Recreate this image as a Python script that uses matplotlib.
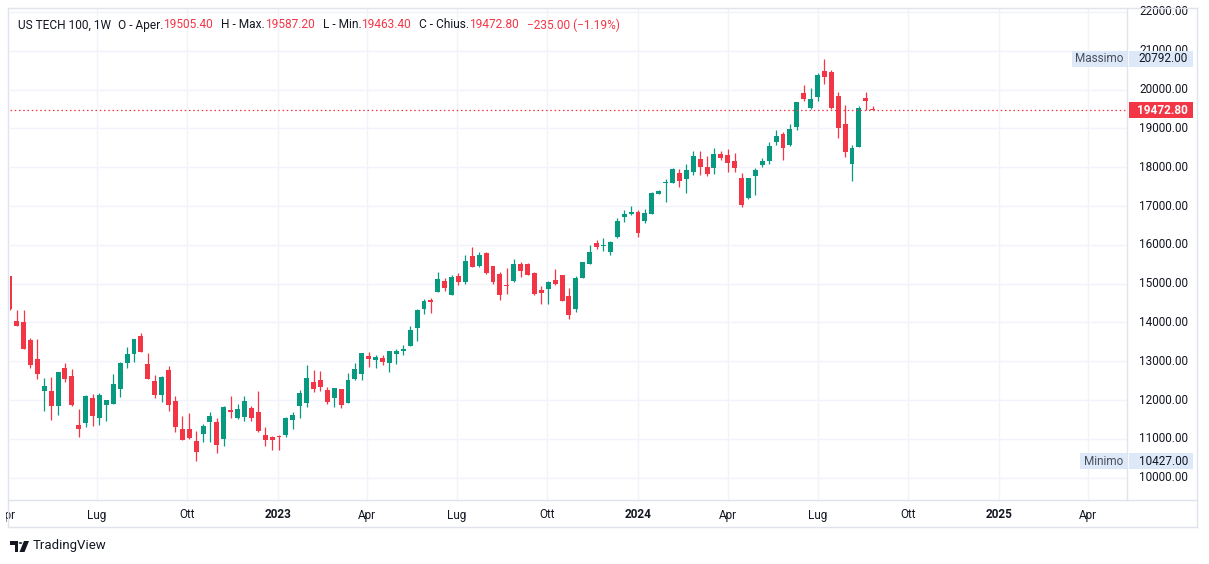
import datetime as dt
import numpy as np
import pandas as pd
import matplotlib
matplotlib.use('Agg')
import matplotlib.pyplot as plt
import matplotlib.dates as mdates
from matplotlib.patches import Rectangle, Polygon, Circle
from matplotlib.transforms import Bbox, blended_transform_factory
from matplotlib.lines import Line2D

plt.rcParams['font.family'] = ['Roboto', 'DejaVu Sans']

# settimane (lunedi) a partire da questa data
week_start = '2022-04-04'

opens = [15190, 14026, 14000, 13560, 13069, 12224, 12242, 11836, 12836, 12630,
         11362, 11397, 12061, 11526, 11862, 11888, 12276, 12948, 13181, 13664,
         12940, 12500, 12121, 12785, 11983, 11259, 11259, 10949, 11128, 11427,
         11444, 10991, 11752, 11546, 11572, 11803, 11700, 11110, 11059, 11070,
         11110, 11495, 11854, 11931, 12470, 12521, 12265, 12060, 12290, 11931,
         12547, 12675, 13134, 13030, 13082, 12952, 13181, 13259, 13389, 13855,
         14348, 14555, 14788, 15074, 14711, 15203, 15048, 15722, 15462, 15800,
         15443, 15238, 14957, 15068, 15519, 15494, 15264, 14830, 14864, 15085,
         15213, 14677, 14353, 15145, 15502, 16055, 15962, 15825, 16208, 16719,
         16796, 16847, 16615, 16803, 17307, 17581, 17598, 17846, 17692, 17872,
         18205, 18000, 17974, 18333, 18308, 18154, 17718, 17205, 17769, 18051,
         18154, 18641, 18859, 18576, 19039, 19914, 19528, 19811, 20480, 20455,
         19837, 19116, 18087, 18524, 19786, 19505.4]
highs = [15200, 14310, 14310, 13612, 13586, 12578, 12604, 12733, 12966, 12810,
         11776, 12138, 12164, 12190, 12009, 12681, 12992, 13379, 13586, 13741,
         13224, 12655, 12630, 12888, 12095, 11578, 11673, 11207, 11392, 11700,
         11546, 11855, 12111, 11906, 12111, 11855, 12239, 11316, 11080, 11110,
         11572, 11700, 12265, 12906, 12778, 12752, 12342, 12316, 12290, 12701,
         12957, 13214, 13236, 13160, 13172, 13262, 13311, 13415, 13907, 14348,
         14607, 14633, 15307, 15151, 15229, 15281, 15748, 15955, 15825, 15825,
         15443, 15289, 15391, 15647, 15570, 15545, 15289, 14940, 15060, 15366,
         15213, 14881, 15187, 15570, 16004, 16132, 16183, 16106, 16693, 16898,
         17000, 16898, 16923, 17359, 17410, 17692, 17974, 17949, 18077, 18410,
         18410, 18282, 18487, 18410, 18462, 18359, 17846, 17718, 17974, 18231,
         18641, 18949, 18910, 19116, 19683, 20120, 20043, 20429, 20792, 20506,
         19940, 19605, 18576, 19580, 19940, 19587.2]
lows = [14330, 13900, 13310, 12819, 12535, 11707, 11500, 11604, 12457, 11836,
        11061, 11319, 11345, 11371, 11474, 11888, 12069, 12819, 12974, 13233,
        12535, 12043, 11940, 11707, 11190, 10983, 11009, 10427, 10914, 10914,
        10632, 10811, 11529, 11521, 11452, 11452, 11187, 10811, 10709, 10709,
        11042, 11264, 11546, 11829, 12213, 12239, 11906, 11829, 11803, 11931,
        12521, 12521, 12850, 12824, 12900, 12720, 12922, 13156, 13389, 13518,
        14218, 14244, 14788, 14814, 14711, 14970, 14996, 15436, 15436, 15255,
        14991, 14583, 14736, 15043, 15170, 15221, 14702, 14481, 14481, 14966,
        14557, 14098, 14277, 15145, 15502, 15885, 15834, 15749, 16183, 16591,
        16770, 16208, 16564, 16803, 17307, 17102, 17581, 17487, 17333, 17795,
        17795, 17769, 17820, 18180, 17872, 17872, 16974, 17179, 17282, 18000,
        18077, 18564, 18190, 18550, 18962, 19708, 19502, 19708, 20146, 19502,
        18756, 18267, 17649, 18524, 19477, 19463.4]
closes = [14340, 13905, 13310, 12897, 12664, 12371, 11836, 12733, 12535, 11862,
          11268, 12112, 11578, 12138, 12009, 12423, 12966, 13198, 13586, 13233,
          12535, 12121, 12604, 11862, 11319, 10983, 11035, 10673, 11341, 11598,
          10837, 11829, 11683, 11777, 11983, 11546, 11213, 10965, 10965, 11050,
          11546, 11623, 12188, 12573, 12290, 12342, 11957, 12316, 11880, 12521,
          12803, 13214, 13056, 13108, 12978, 13262, 13259, 13311, 13804, 14322,
          14564, 14538, 15125, 14892, 15177, 15048, 15592, 15436, 15748, 15262,
          15043, 14711, 14940, 15494, 15323, 15221, 14728, 14762, 15034, 14983,
          14557, 14200, 15145, 15553, 15825, 15953, 16004, 16081, 16617, 16796,
          16847, 16311, 16820, 17333, 17384, 17598, 17949, 17641, 17923, 18282,
          18009, 17820, 18333, 18231, 18103, 17974, 17034, 17718, 17923, 18154,
          18539, 18795, 18499, 18988, 19683, 19760, 19760, 20378, 20326, 19528,
          19013, 18396, 18499, 19528, 19708, 19472.8]

price_ticks = list(range(10000, 22001, 1000))
month_ticks = ['2022-04-01', '2022-07-01', '2022-10-01', '2023-01-01', '2023-04-01',
               '2023-07-01', '2023-10-01', '2024-01-01', '2024-04-01', '2024-07-01',
               '2024-10-01', '2025-01-01', '2025-04-01']
month_labels = ['Apr', 'Lug', 'Ott', '2023', 'Apr', 'Lug', 'Ott', '2024', 'Apr', 'Lug',
                'Ott', '2025', 'Apr']

last_close = 19472.80
max_price = 20792.00
min_price = 10427.00

GREEN = '#089981'
RED = '#F23645'
GRID = '#f0f3fa'
BORDER = '#e0e3eb'
TEXT = '#131722'
LABEL_BG = '#dde9f8'

W, H = 1209, 564
L, R, T, B = 10, 1127, 8, 500

fig = plt.figure(figsize=(W / 100, H / 100), dpi=100)
fig.patch.set_facecolor('white')
ax = fig.add_axes([L / W, 1 - B / H, (R - L) / W, (B - T) / H])

# scala temporale: 1 gen 2024 a x=638, ~0.986 px/giorno
d0 = mdates.date2num(dt.datetime(2024, 1, 1))
ppd = 0.9863
ax.set_xlim(d0 + (L - 638) / ppd, d0 + (R - 638) / ppd)
ax.set_ylim(9426, 22102)

for s in ax.spines.values():
    s.set_visible(False)
ax.set_xticks([])
ax.set_yticks([])

# griglia
for v in price_ticks:
    ax.axhline(v, color=GRID, lw=1, zorder=0)
for m in month_ticks:
    ax.axvline(mdates.date2num(pd.Timestamp(m)), color=GRID, lw=1, zorder=0)

# candele
dates = mdates.date2num(pd.date_range(week_start, periods=len(opens), freq='7D'))
o = np.array(opens)
h = np.array(highs)
l = np.array(lows)
c = np.array(closes)
cols = np.where(c >= o, GREEN, RED)
ax.vlines(dates, l, h, colors=cols, lw=0.9, zorder=2)
body_lo = np.minimum(o, c)
body_h = np.maximum(np.abs(c - o), 30)
ax.bar(dates, body_h, width=5.0, bottom=body_lo, color=cols, lw=0, zorder=3)

# linea ultimo prezzo
ax.axhline(last_close, color=RED, lw=0.9, linestyle=(0, (1.2, 2.2)), zorder=4)

# asse prezzi a destra
bt = blended_transform_factory(fig.transFigure, ax.transData)
px_per_unit = (B - T) / (22102 - 9426)
box_h = 16 / px_per_unit
for v in price_ticks:
    ax.text(1188 / W, v, f'{v:.2f}', transform=bt, ha='right', va='center',
            fontsize=8.5, color=TEXT, clip_on=False, zorder=5)

for val, name in [(max_price, 'Massimo'), (min_price, 'Minimo')]:
    ax.add_patch(Rectangle((1129 / W, val - box_h / 2), 64 / W, box_h, transform=bt,
                           facecolor=LABEL_BG, edgecolor='none', clip_on=False, zorder=6))
    ax.text(1188 / W, val, f'{val:.2f}', transform=bt, ha='right', va='center',
            fontsize=8.5, color=TEXT, clip_on=False, zorder=7)
    tw = 55 if name == 'Massimo' else 47
    ax.add_patch(Rectangle(((1127 - tw) / W, val - box_h / 2), tw / W, box_h, transform=bt,
                           facecolor=LABEL_BG, edgecolor='none', clip_on=False, zorder=6))
    ax.text((1127 - tw / 2) / W, val, name, transform=bt, ha='center', va='center',
            fontsize=8.5, color='#4a4e5a', clip_on=False, zorder=7)

ax.add_patch(Rectangle((1129 / W, last_close - box_h / 2), 64 / W, box_h, transform=bt,
                       facecolor=RED, edgecolor='none', clip_on=False, zorder=6))
ax.text(1188 / W, last_close, f'{last_close:.2f}', transform=bt, ha='right', va='center',
        fontsize=8.5, color='white', fontweight='bold', clip_on=False, zorder=7)

# asse tempo
tt = blended_transform_factory(ax.transData, fig.transFigure)
clip = Bbox.from_extents(6, 0, R, H)
for m, lab in zip(month_ticks, month_labels):
    t = ax.text(mdates.date2num(pd.Timestamp(m)), 1 - 515 / H, lab, transform=tt,
                ha='center', va='center', fontsize=8.5, color=TEXT,
                fontweight='bold' if lab.isdigit() else 'normal', zorder=5)
    t.set_clip_on(True)
    t.set_clip_box(clip)

# cornici
def fx(x):
    return x / W

def fy(y):
    return 1 - y / H

for (x1, y1, x2, y2) in [(8, T, 1197, T), (8, 527, 1197, 527), (8, B, 1197, B),
                         (8, T, 8, 527), (1197, T, 1197, 527), (R, T, R, B)]:
    fig.add_artist(Line2D([fx(x1), fx(x2)], [fy(y1), fy(y2)], color=BORDER, lw=1))

# intestazione
fig.canvas.draw()
rend = fig.canvas.get_renderer()
pieces = [('US TECH 100, 1W', TEXT, 7), ('O - Aper.', TEXT, 0), ('19505.40', RED, 8),
          ('H - Max.', TEXT, 0), ('19587.20', RED, 8), ('L - Min.', TEXT, 0),
          ('19463.40', RED, 8), ('C - Chius.', TEXT, 0), ('19472.80', RED, 8),
          ('\u2212235.00 (\u22121.19%)', RED, 0)]
x = 18
for s, col, gap in pieces:
    t = fig.text(fx(x), fy(25), s, color=col, fontsize=8.6, ha='left', va='center')
    x += t.get_window_extent(rend).width + gap

# logo TradingView
fig.add_artist(Polygon([(fx(10), fy(541)), (fx(18), fy(541)), (fx(18), fy(552)),
                        (fx(14.5), fy(552)), (fx(14.5), fy(545)), (fx(10), fy(545))],
                       closed=True, facecolor=TEXT, edgecolor='none'))
fig.add_artist(Circle((fx(20.5), fy(543)), 1.8 / W, facecolor=TEXT, edgecolor='none'))
fig.add_artist(Polygon([(fx(24), fy(541)), (fx(29), fy(541)), (fx(24.5), fy(552)),
                        (fx(19.5), fy(552))], closed=True, facecolor=TEXT, edgecolor='none'))
fig.text(fx(33), fy(546), 'TradingView', color=TEXT, fontsize=9.5, ha='left', va='center')

fig.savefig('out.png', dpi=100, facecolor='white')
